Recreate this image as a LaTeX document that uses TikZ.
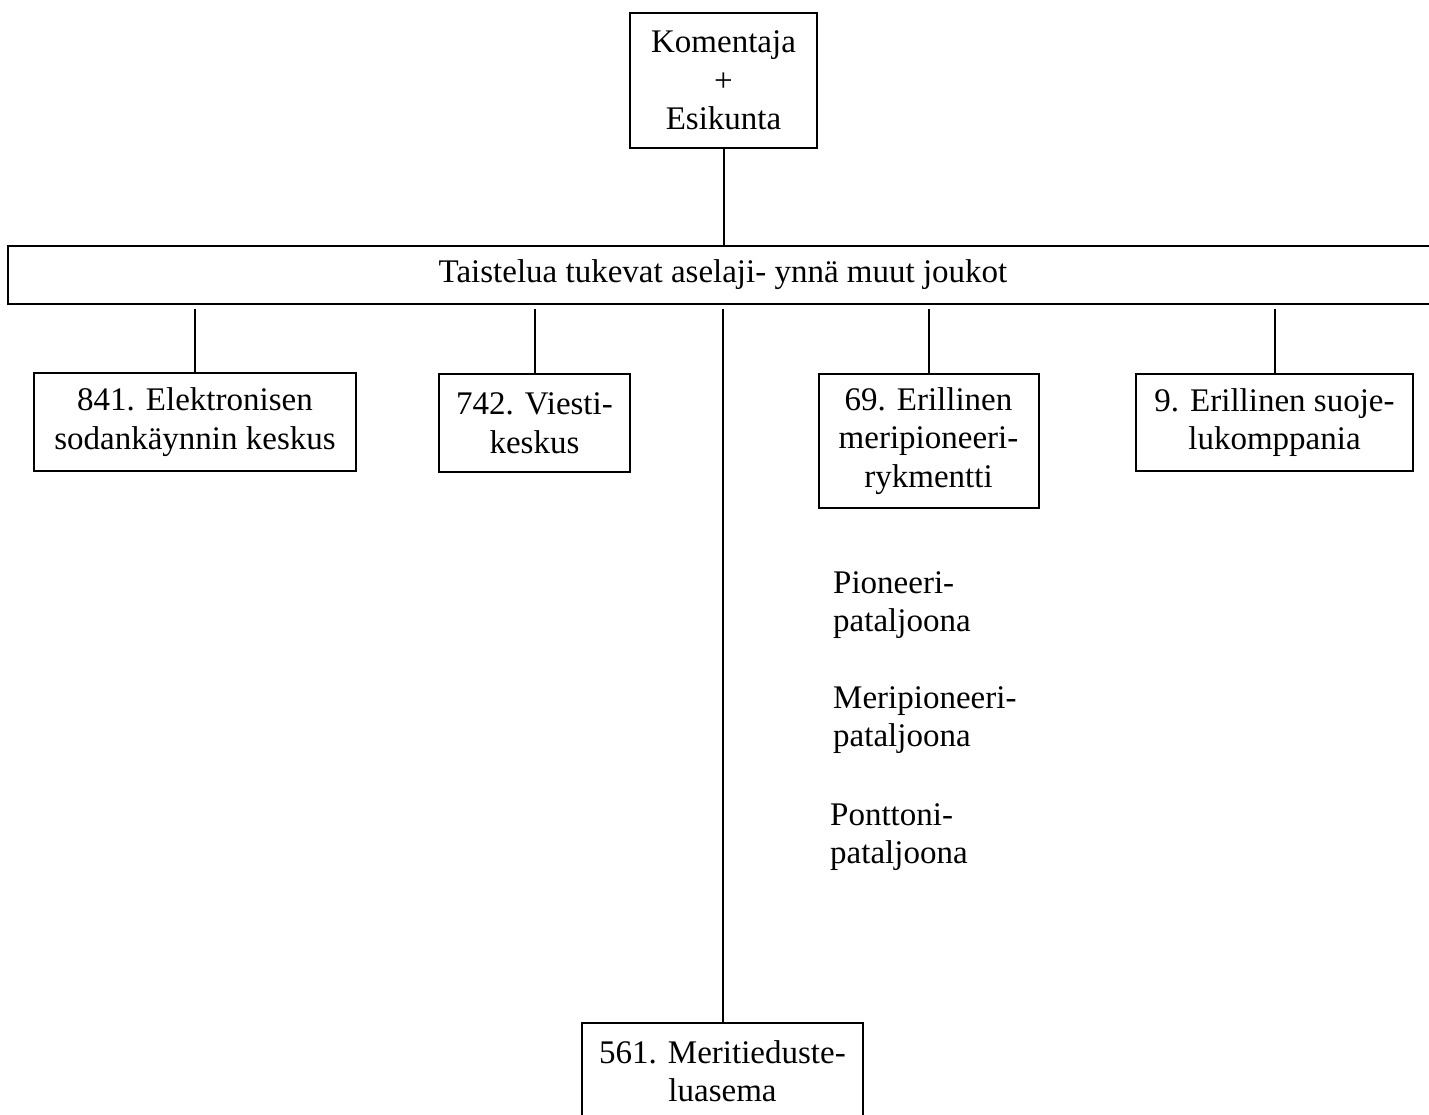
\documentclass[tikz,border=0pt]{standalone}
\usepackage{fontspec}
\setmainfont{Liberation Serif}
\begin{document}
\begin{tikzpicture}[x=1pt,y=-1pt,
  lbl/.style={font=\fontsize{33}{38.5}\selectfont, align=center, inner sep=0pt},
  box/.style={draw, line width=2pt, lbl},
  freetxt/.style={font=\fontsize{33}{38.5}\selectfont, align=left, inner sep=0pt, anchor=west},
  conn/.style={line width=2pt}]
\useasboundingbox (0,0) rectangle (1429,1114);
\clip (0,0) rectangle (1429,1114);
\fill[white] (0,0) rectangle (1429,1114);

% top box
\node[box, minimum width=187, minimum height=135] (top) at (723.5,80.5) {Komentaja\\+\\Esikunta};

% bar
\node[box, minimum width=1430, minimum height=58] (bar) at (723,275) {Taistelua tukevat aselaji- ynnä muut joukot};

% units
\node[box, minimum width=322, minimum height=98] (b841) at (195,422) {841. Elektronisen\\sodankäynnin keskus};
\node[box, minimum width=191, minimum height=98] (b742) at (534.5,423) {742. Viesti-\\keskus};
\node[box, minimum width=220, minimum height=134] (b69) at (928.5,441) {69. Erillinen\\meripioneeri-\\rykmentti};
\node[box, minimum width=277, minimum height=97] (b9) at (1274.5,422.5) {9. Erillinen suoje-\\lukomppania};
\node[box, minimum width=281, minimum height=150, anchor=north] (b561) at (722.5,1022) {};
\node[lbl] (t561) at (722.5,1071) {561. Meritieduste-\\luasema};

% free texts
\node[freetxt] (pion) at (833,605) {Pioneeri-\\pataljoona};
\node[freetxt] (mpion) at (833,720) {Meripioneeri-\\pataljoona};
\node[freetxt] (pont) at (830,837) {Ponttoni-\\pataljoona};

% connectors
\draw[conn] (top.south) -- (top.south |- bar.north);
\coordinate (bs) at ([yshift=-4pt]bar.south);
\draw[conn] (bs -| b841.north) -- (b841.north);
\draw[conn] (bs -| b742.north) -- (b742.north);
\draw[conn] (bs -| b69.north) -- (b69.north);
\draw[conn] (bs -| b9.north) -- (b9.north);
\draw[conn] (bs -| b561.north) -- (b561.north);
\end{tikzpicture}
\end{document}
